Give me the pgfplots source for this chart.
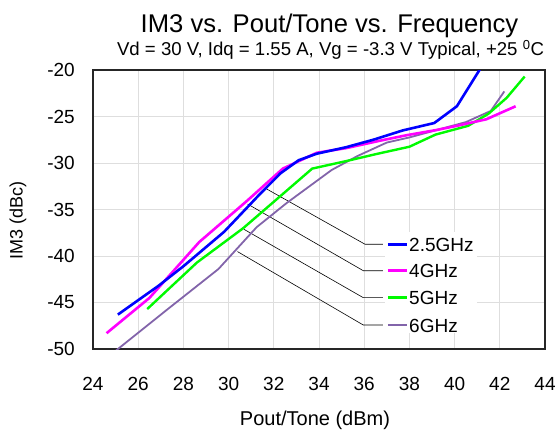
\documentclass[border=0pt]{standalone}
\usepackage{fontspec}
\setmainfont{Liberation Sans}
\usepackage{pgfplots}
\pgfplotsset{compat=1.18}
\definecolor{cblue}{RGB}{0,0,255}
\definecolor{cmag}{RGB}{255,0,255}
\definecolor{cgreen}{RGB}{0,250,0}
\definecolor{cpurp}{RGB}{130,100,170}
\begin{document}
\begin{tikzpicture}[x=1bp,y=1bp]
\path[use as bounding box] (0,0) rectangle (558,-430);
\begin{axis}[
  at={(93bp,-349bp)}, anchor=south west,
  scale only axis, width=452bp, height=279bp,
  xmin=24, xmax=44, ymin=-50, ymax=-20,
  xtick={24,26,...,44}, ytick={-50,-45,...,-20},
  grid=major, major grid style={color=black!13, line width=0.9bp},
  axis line style={line width=1.2bp, black!85},
  major tick length=0pt,
  tick label style={font=\fontsize{19bp}{22bp}\selectfont},
  /pgf/number format/assume math mode=true,
  xticklabel style={anchor=base, inner sep=0pt, yshift=-41bp},
  yticklabel style={anchor=east, inner sep=0pt, xshift=-18bp},
]
% leader lines
\addplot[black, line width=0.6bp, forget plot] coordinates {(31.69,-32.80) (36.04,-38.74) (36.83,-38.74)};
\addplot[black, line width=0.6bp, forget plot] coordinates {(30.84,-34.41) (35.96,-41.58) (36.83,-41.58)};
\addplot[black, line width=0.6bp, forget plot] coordinates {(30.68,-37.13) (35.96,-44.48) (36.83,-44.48)};
\addplot[black, line width=0.6bp, forget plot] coordinates {(30.39,-39.52) (35.96,-47.42) (36.83,-47.42)};
% legend background
\fill[white] (axis cs:36.92,-37.42) rectangle (axis cs:40.99,-48.28);
% data
\addplot[cpurp, line width=1.8bp] coordinates {
(25.0,-50.2) (27.26,-45.8) (29.55,-41.4) (31.24,-36.9) (32.57,-34.3) (34.56,-30.75)
(35.7,-29.25) (37.0,-27.8) (38.0,-27.25) (40.5,-25.6) (41.6,-24.4) (42.2,-22.3)};
\addplot[cgreen, line width=2.4bp] coordinates {
(26.4,-45.7) (28.6,-40.7) (30.65,-37.0) (33.7,-30.6) (35.1,-29.85) (36.6,-29.0)
(38.0,-28.25) (39.15,-26.95) (40.6,-26.0) (41.5,-24.7) (42.3,-23.0) (43.1,-20.7)};
\addplot[cmag, line width=2.6bp] coordinates {
(24.6,-48.3) (26.5,-44.5) (28.7,-38.5) (30.8,-34.1) (32.4,-30.6) (33.9,-28.9)
(35.2,-28.4) (36.7,-27.6) (37.9,-27.0) (39.2,-26.45) (40.1,-26.0) (41.4,-25.3) (42.7,-23.9)};
\addplot[cblue, line width=2.6bp] coordinates {
(25.1,-46.3) (26.9,-43.2) (28.0,-41.1) (29.8,-37.4) (31.4,-33.3) (32.3,-31.1)
(33.1,-29.7) (33.9,-29.0) (35.2,-28.3) (36.4,-27.5) (37.7,-26.5) (39.1,-25.7)
(40.1,-23.9) (41.1,-20.0) (41.3,-19.2)};
% legend samples
\addplot[cblue, line width=2.6bp, forget plot] coordinates {(37.05,-38.74) (37.89,-38.74)};
\addplot[cmag, line width=2.6bp, forget plot] coordinates {(37.05,-41.58) (37.89,-41.58)};
\addplot[cgreen, line width=2.4bp, forget plot] coordinates {(37.05,-44.48) (37.89,-44.48)};
\addplot[cpurp, line width=1.8bp, forget plot] coordinates {(37.05,-47.42) (37.89,-47.42)};
\end{axis}
\begin{scope}[every node/.style={inner sep=0pt, font=\fontsize{19bp}{22bp}\selectfont}]
\node[anchor=base west] at (409,-251.3) {2.5GHz};
\node[anchor=base west] at (409,-277.7) {4GHz};
\node[anchor=base west] at (409,-304.7) {5GHz};
\node[anchor=base west] at (409,-332.0) {6GHz};
\end{scope}
\node[inner sep=0pt, anchor=base, font=\fontsize{25.6bp}{28bp}\selectfont] at (329.5,-32) {IM3 vs. Pout/Tone vs. Frequency};
\node[inner sep=0pt, anchor=base, font=\fontsize{18.6bp}{22bp}\selectfont] at (330.5,-55.5) {Vd = 30 V, Idq = 1.55 A, Vg = -3.3 V Typical, +25 \textsuperscript{0}C};
\node[inner sep=0pt, anchor=base, font=\fontsize{20bp}{24bp}\selectfont] at (315,-425) {Pout/Tone (dBm)};
\node[inner sep=0pt, anchor=center, rotate=90, font=\fontsize{18bp}{22bp}\selectfont] at (18,-220) {IM3 (dBc)};
\end{tikzpicture}
\end{document}
